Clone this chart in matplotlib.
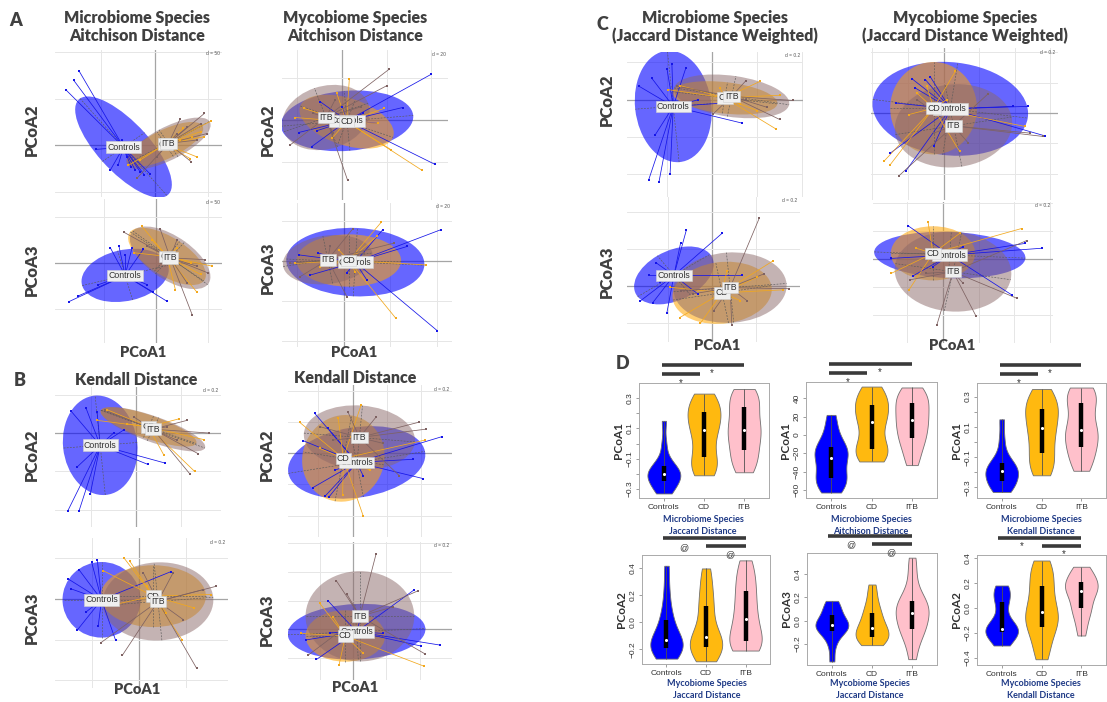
import numpy as np
import matplotlib.pyplot as plt
import matplotlib.transforms as mtransforms
from matplotlib.patches import Ellipse
from matplotlib.collections import LineCollection

plt.rcParams['font.family'] = ['Lato', 'DejaVu Sans']
plt.rcParams['axes.unicode_minus'] = True

W, H = 1107, 702
GROUPS = ["Controls", "CD", "ITB"]

# ---------------- PCoA scores (grid units, 1 unit = d) ----------------
# ellipses: (cx, cy, semi-axis a, semi-axis b, angle in degrees)
A_MICRO_PC2_PTS = {
    "Controls": [(-1.66, 1.19), (-1.51, 1.39), (-1.41, 1.59), (-1.09, -0.09), (-0.83, -0.54), (-0.68, -0.43),
                 (-0.52, -0.25), (-0.44, -0.46), (-0.36, -0.54), (-0.27, -0.57), (-0.19, -0.64), (-0.08, -0.62),
                 (-0.61, 0.11)],
    "CD": [(1.06, 0.52), (0.67, -0.29), (0.7, 0.18), (0.48, 0.11), (0.86, 0.29), (-0.49, -0.43), (-0.27, -0.32),
           (0.54, 0.36), (0.92, 0.18), (0.79, -0.25)],
    "ITB": [(0.93, 0.68), (0.98, 0.25), (0.69, -0.36), (0.48, 0.57), (-0.33, -0.71), (0.61, 0.39), (0.79, 0.11),
            (0.86, 0.46), (0.42, 0.25), (0.04, -0.25)],
}
A_MICRO_PC2_ELL = {"Controls": (-0.58, -0.04, 1.32, 0.50, -52), "CD": (0.20, 0.02, 0.80, 0.30, 30),
                   "ITB": (0.26, 0.04, 0.90, 0.34, 31.5)}

A_MICRO_PC3_PTS = {
    "Controls": [(-1.67, -0.84), (-1.5, -0.72), (-1.1, -0.47), (-0.87, 0.32), (-0.71, 0.37), (-0.59, 0.18),
                 (-0.24, 0.30), (-0.17, -0.47), (-0.06, -0.63), (0.21, -0.83), (-0.46, 0.32)],
    "CD": [(-0.27, 0.79), (1.07, -0.07), (0.78, -0.63), (0.37, -0.58), (0.66, 0.0), (-0.43, 0.22), (-0.08, 0.5),
           (0.85, -0.25), (0.4, 0.32)],
    "ITB": [(-0.61, 0.66), (0.08, 0.73), (0.69, -1.12), (1.0, -0.22), (0.94, 0.07), (0.4, 0.5), (0.59, -0.43),
            (-0.17, 0.36), (0.78, -0.07)],
}
A_MICRO_PC3_ELL = {"Controls": (-0.59, -0.27, 0.85, 0.55, 15), "CD": (0.21, 0.14, 0.88, 0.40, -37),
                   "ITB": (0.27, 0.11, 0.92, 0.45, -39)}

A_MYCO_PC2_PTS = {
    "Controls": [(2.0, 1.1), (2.07, -1.06), (1.36, 0.3), (-0.67, -0.64), (-0.96, -0.3), (-0.48, 0.44), (0.0, 0.32),
                 (0.48, 0.16), (0.81, -0.08), (-0.56, -0.26)],
    "CD": [(1.78, -1.2), (0.17, 0.98), (1.11, -0.72), (0.95, 0.28), (-0.85, 0.28), (-0.22, -0.44), (0.81, -0.08),
           (-1.04, 0.06), (-0.11, 0.64)],
    "ITB": [(1.06, 1.22), (1.0, 0.82), (0.13, -1.44), (-1.15, -0.6), (-0.15, 0.48), (0.44, 0.32), (-0.63, 0.16),
            (-0.19, -0.32)],
}
A_MYCO_PC2_ELL = {"Controls": (0.12, -0.02, 1.48, 0.72, 5), "CD": (0.11, -0.04, 1.10, 0.56, -20),
                  "ITB": (-0.35, 0.06, 1.00, 0.75, 20)}

A_MYCO_PC3_PTS = {
    "Controls": [(2.09, 0.78), (2.0, -1.73), (1.36, 0.36), (0.84, 0.78), (-0.96, 0.15), (-0.71, -0.35),
                 (0.07, -0.29), (0.5, -0.48), (-0.54, 0.19)],
    "CD": [(0.81, 0.97), (1.12, -1.43), (1.77, -0.1), (-1.04, -0.06), (0.71, 0.61), (-0.11, 0.28), (0.25, -0.27),
           (-0.5, -0.14)],
    "ITB": [(0.19, 0.79), (0.07, -0.89), (1.07, 0.44), (-1.14, -0.06), (-0.93, -0.39), (-0.29, 0.36), (0.43, 0.19)],
}
A_MYCO_PC3_ELL = {"Controls": (0.25, -0.03, 1.48, 0.85, -3), "CD": (0.11, 0.01, 1.12, 0.65, 0),
                  "ITB": (-0.34, 0.03, 0.97, 0.60, 10)}

B_MICRO_PC2_PTS = {
    "Controls": [(-1.52, -2.02), (-1.27, -2.02), (-1.45, 0.57), (-1.12, 0.66), (-0.87, 0.55), (-1.32, -0.89),
                 (0.27, -0.82), (0.64, -0.78), (-0.26, 0.09), (-1.02, -1.58), (-0.5, 0.0)],
    "CD": [(1.31, -1.0), (0.62, -0.57), (0.96, 0.37), (1.51, -0.17), (-0.65, 0.61), (-0.87, 0.33), (0.47, 0.16),
           (-0.2, 0.24)],
    "ITB": [(1.63, 0.0), (1.39, -0.54), (1.2, -1.06), (-0.69, 0.59), (1.14, 0.33), (-0.05, 0.42), (0.69, 0.16),
            (0.92, -0.19)],
}
B_MICRO_PC2_ELL = {"Controls": (-0.80, -0.32, 1.30, 0.83, 95), "CD": (0.28, 0.16, 1.15, 0.30, -22),
                   "ITB": (0.38, 0.10, 1.26, 0.33, -23)}

B_MICRO_PC3_PTS = {
    "Controls": [(-1.01, 0.9), (-0.89, 0.97), (-1.28, 0.72), (-1.52, 0.5), (-1.45, 0.25), (-1.32, -0.77),
                 (-0.87, -0.66), (-0.5, -1.02), (0.67, 0.67), (-1.13, -0.32)],
    "CD": [(-0.33, 1.02), (-0.2, 0.93), (0.92, -1.02), (1.17, -0.22), (1.52, 0.11), (-0.77, 0.7), (-0.7, -0.18),
           (0.16, 0.31), (0.58, -0.34)],
    "ITB": [(1.22, -1.7), (-0.36, -1.39), (-0.82, -1.08), (1.63, 0.31), (1.36, 0.23), (0.72, 0.64), (0.09, 0.64),
            (0.94, -0.51)],
}
B_MICRO_PC3_ELL = {"Controls": (-0.80, -0.02, 0.93, 0.83, 90), "CD": (0.30, 0.07, 1.12, 0.76, 0),
                   "ITB": (0.40, -0.06, 1.18, 0.96, 5)}

B_MYCO_PC2_PTS = {
    "Controls": [(2.62, 0.54), (2.06, -0.81), (1.78, -0.19), (-1.11, 1.29), (-1.45, 0.41), (-1.16, -1.1),
                 (-0.81, -1.38), (-0.69, -1.4), (0.31, -0.72), (-0.72, 0.81), (-0.52, -0.54)],
    "CD": [(0.31, -2.01), (0.25, 1.56), (-1.55, 1.0), (2.13, 0.43), (-0.29, -1.34), (0.51, -0.54), (-0.96, 0.16),
           (-0.42, 1.13)],
    "ITB": [(1.93, 1.0), (2.15, 0.78), (0.68, 1.16), (-0.13, 1.32), (1.37, -0.72), (-0.57, 0.43), (0.9, 0.32),
            (-0.96, 0.86)],
}
B_MYCO_PC2_ELL = {"Controls": (0.12, -0.29, 2.03, 1.13, 10), "CD": (-0.27, -0.16, 1.40, 1.20, 80),
                  "ITB": (0.20, 0.51, 1.63, 1.03, -5)}

B_MYCO_PC3_PTS = {
    "Controls": [(2.63, -0.56), (1.82, 1.36), (-1.11, -1.06), (-1.44, -0.38), (-0.76, 0.99), (2.04, -0.59),
                 (-0.71, -0.13), (0.2, 0.31), (0.91, -0.15)],
    "CD": [(2.12, -1.29), (-0.43, -1.26), (-1.57, -0.15), (-1.01, 0.9), (0.3, -0.85), (-0.61, 0.43), (0.61, -0.03)],
    "ITB": [(0.69, 2.64), (1.95, 1.34), (2.17, -0.87), (-0.51, 1.69), (-1.36, -0.91), (1.21, 0.78), (-0.2, 1.24)],
}
B_MYCO_PC3_ELL = {"Controls": (0.10, -0.09, 2.08, 0.97, 3), "CD": (-0.24, -0.24, 1.20, 0.90, 0),
                  "ITB": (0.20, 0.45, 1.64, 1.58, 0)}

C_MICRO_PC2_PTS = {
    "Controls": [(-1.42, -2.16), (-1.19, -2.22), (-0.94, -1.98), (-1.27, -0.94), (-1.63, 0.36), (-1.35, 0.58),
                 (-1.01, 0.83), (-0.59, 0.85), (-0.9, 0.96), (0.67, -0.63), (0.24, -0.09), (-0.31, 0.0)],
    "CD": [(1.06, 0.49), (1.41, -0.78), (1.5, 0.12), (0.61, -0.11), (-0.98, 0.27), (-0.72, 0.38), (0.99, -0.29),
           (0.17, 0.32)],
    "ITB": [(1.79, -0.02), (1.5, -0.53), (0.74, 0.5), (0.02, -0.38), (-0.79, 0.36), (1.21, -0.2), (0.76, -0.02)],
}
C_MICRO_PC2_ELL = {"Controls": (-0.87, -0.18, 1.50, 0.85, 95), "CD": (0.28, 0.05, 1.18, 0.42, -8),
                   "ITB": (0.43, 0.09, 1.30, 0.55, -10)}

C_MICRO_PC3_PTS = {
    "Controls": [(-1.63, -0.42), (-1.34, -0.46), (-1.02, -0.74), (-1.43, 0.28), (-1.26, 0.62), (-0.58, 1.5),
                 (-0.71, 1.15), (0.23, 1.42), (0.68, 0.28), (-0.32, -0.22), (-1.17, 0.1)],
    "CD": [(1.39, 0.68), (1.6, -0.11), (-0.26, -1.01), (-0.73, -0.86), (1.02, 0.23), (0.64, -0.4), (-0.94, -0.04),
           (0.34, 0.41)],
    "ITB": [(1.07, 1.83), (1.75, -0.08), (0.45, -1.07), (-0.43, -0.22), (1.17, 0.32), (0.04, -0.67), (0.79, -0.4),
            (-0.71, -0.13)],
}
C_MICRO_PC3_ELL = {"Controls": (-0.86, 0.28, 1.00, 0.65, 35), "CD": (0.23, -0.19, 1.13, 0.83, 10),
                   "ITB": (0.41, -0.05, 1.28, 0.95, 5)}

C_MYCO_PC2_PTS = {
    "Controls": [(2.85, -0.75), (2.38, 0.22), (1.96, 0.22), (-1.34, 0.33), (-1.5, -1.32), (-1.05, -1.89),
                 (-0.89, 1.13), (-0.51, 1.1), (-0.37, 1.19), (-0.79, 0.82), (-0.28, -1.1)],
    "CD": [(-1.68, -1.59), (-1.5, -1.7), (0.45, -1.26), (0.33, 1.37), (2.29, -0.44), (-0.98, -0.05), (-0.47, 0.88),
           (0.09, 0.44), (-0.75, 0.66)],
    "ITB": [(-1.26, -2.07), (2.8, -0.77), (1.26, 0.64), (0.7, -0.99), (2.43, -0.66), (-0.28, -0.66), (-0.75, 0.44)],
}
C_MYCO_PC2_ELL = {"Controls": (0.19, 0.14, 2.20, 1.53, -8), "CD": (-0.28, 0.16, 1.22, 1.52, 0),
                  "ITB": (0.28, -0.42, 1.66, 1.36, 10)}

C_MYCO_PC3_PTS = {
    "Controls": [(-0.98, 1.18), (2.76, 0.38), (2.29, 0.55), (1.92, -1.27), (-1.45, 0.02), (-0.84, -0.6),
                 (-0.28, -0.27), (0.56, 0.44)],
    "CD": [(2.2, 1.08), (-0.42, 1.32), (-1.45, -0.51), (0.47, 0.91), (-0.95, -1.09), (-0.75, 0.38), (0.09, -0.04)],
    "ITB": [(0.93, -2.04), (-0.17, -2.33), (2.06, -1.39), (2.34, 0.65), (-0.47, -0.51), (-0.93, -0.74),
            (0.56, -0.86)],
}
C_MYCO_PC3_ELL = {"Controls": (0.19, 0.14, 2.12, 0.82, -3), "CD": (-0.28, 0.20, 1.18, 0.96, 0),
                  "ITB": (0.28, -0.45, 1.64, 1.41, -10)}

# ---------------- violin data (panel D) ----------------
D1_VALUES = {  # Microbiome, Jaccard, PCoA1
    "Controls": [-0.33, -0.31, -0.29, -0.26, -0.24, -0.23, -0.21, -0.20, -0.19, -0.18, -0.16, -0.14, -0.10, 0.00, 0.15],
    "CD": [-0.21, -0.18, -0.15, -0.11, -0.07, 0.0, 0.06, 0.09, 0.13, 0.17, 0.20, 0.22, 0.26, 0.30, 0.33],
    "ITB": [-0.19, -0.15, -0.10, -0.06, -0.02, 0.03, 0.07, 0.09, 0.12, 0.17, 0.22, 0.26, 0.30, 0.33, 0.36],
}
D2_VALUES = {  # Microbiome, Aitchison, PCoA1
    "Controls": [-63, -58, -53, -49, -45, -40, -33, -25, -22, -19, -15, -11, -4, 8, 22],
    "CD": [-29, -25, -20, -17, -13, -5, 7, 14, 19, 25, 31, 35, 41, 47, 53],
    "ITB": [-33, -22, -12, -5, -1, 6, 12, 16, 21, 27, 33, 37, 42, 47, 52],
}
D3_VALUES = {  # Microbiome, Kendall, PCoA1
    "Controls": [-0.33, -0.31, -0.29, -0.27, -0.25, -0.23, -0.21, -0.19, -0.18, -0.17, -0.15, -0.13, -0.08, 0.02, 0.15],
    "CD": [-0.22, -0.18, -0.14, -0.09, -0.05, 0.01, 0.06, 0.09, 0.13, 0.18, 0.21, 0.23, 0.27, 0.31, 0.35],
    "ITB": [-0.19, -0.14, -0.09, -0.05, -0.01, 0.03, 0.06, 0.08, 0.12, 0.18, 0.24, 0.28, 0.31, 0.34, 0.36],
}
D4_VALUES = {  # Mycobiome, Jaccard, PCoA2
    "Controls": [-0.27, -0.25, -0.22, -0.20, -0.18, -0.16, -0.15, -0.135, -0.11, -0.07, -0.01, 0.04, 0.12, 0.25, 0.42],
    "CD": [-0.29, -0.26, -0.22, -0.19, -0.17, -0.15, -0.13, -0.11, -0.06, 0.02, 0.09, 0.15, 0.22, 0.31, 0.40],
    "ITB": [-0.21, -0.19, -0.17, -0.15, -0.13, -0.07, -0.02, 0.025, 0.08, 0.14, 0.20, 0.26, 0.32, 0.39, 0.46],
}
D5_VALUES = {  # Mycobiome, Jaccard, PCoA3
    "Controls": [-0.35, -0.22, -0.14, -0.10, -0.08, -0.06, -0.05, -0.035, -0.02, 0.00, 0.03, 0.06, 0.10, 0.14, 0.17],
    "CD": [-0.21, -0.19, -0.16, -0.15, -0.13, -0.10, -0.08, -0.06, -0.03, 0.01, 0.05, 0.09, 0.14, 0.22, 0.31],
    "ITB": [-0.33, -0.20, -0.11, -0.08, -0.06, 0.00, 0.04, 0.07, 0.10, 0.13, 0.16, 0.18, 0.26, 0.40, 0.54],
}
D6_VALUES = {  # Mycobiome, Kendall, PCoA2
    "Controls": [-0.30, -0.27, -0.23, -0.20, -0.18, -0.175, -0.17, -0.165, -0.13, -0.08, 0.02, 0.07, 0.11, 0.15, 0.18],
    "CD": [-0.41, -0.33, -0.24, -0.17, -0.13, -0.09, -0.06, -0.035, 0.02, 0.09, 0.15, 0.21, 0.27, 0.33, 0.38],
    "ITB": [-0.22, -0.13, -0.06, -0.01, 0.01, 0.07, 0.11, 0.14, 0.16, 0.18, 0.20, 0.22, 0.26, 0.30, 0.33],
}

# ---------------- styling ----------------
FILL = {"Controls": "#0000FF", "CD": "#FFA500", "ITB": "#8B6868"}
FILL_ALPHA = {"Controls": 0.6, "CD": 0.55, "ITB": 0.5}
LINE = {"Controls": "#1515E8", "CD": "#F2A81D", "ITB": "#7E6262"}
VIOLIN = {"Controls": "#0000FF", "CD": "#FFB90F", "ITB": "#FFC0CB"}
TXT = '#404040'
NAVY = '#1F3A86'

fig = plt.figure(figsize=(W / 100, H / 100), dpi=100)


def px_rect(x0, y0, x1, y1):
    return [x0 / W, 1 - y1 / H, (x1 - x0) / W, (y1 - y0) / H]


def ftext(x, y, s, **kw):
    fig.text(x / W, 1 - y / H, s, ha='center', va='center', **kw)


def pcoa_panel(rect, pts, ell, xlim, ylim, dlab):
    ax = fig.add_axes(px_rect(*rect))
    ax.set_xlim(*xlim)
    ax.set_ylim(*ylim)
    ax.axis('off')
    for gx in range(int(np.ceil(xlim[0])), int(np.floor(xlim[1])) + 1):
        ax.axvline(gx, color='#A5A5A5' if gx == 0 else '#E6E6E6', lw=0.9 if gx == 0 else 0.7, zorder=0)
    for gy in range(int(np.ceil(ylim[0])), int(np.floor(ylim[1])) + 1):
        ax.axhline(gy, color='#A5A5A5' if gy == 0 else '#E6E6E6', lw=0.9 if gy == 0 else 0.7, zorder=0)

    for g in GROUPS:
        cx, cy, a, b, ang = ell[g]
        ax.add_patch(Ellipse((cx, cy), 2 * a, 2 * b, angle=ang, fc=FILL[g], ec='none',
                             alpha=FILL_ALPHA[g], zorder=1))
    for g in GROUPS:
        cx, cy, a, b, ang = ell[g]
        t = np.deg2rad(ang)
        c, s = np.cos(t), np.sin(t)
        ax.plot([cx - a * c, cx + a * c], [cy - a * s, cy + a * s], ls=(0, (3, 2)), color='#5A5A5A', lw=0.45, zorder=2)
        ax.plot([cx + b * s, cx - b * s], [cy - b * c, cy + b * c], ls=(0, (3, 2)), color='#5A5A5A', lw=0.45, zorder=2)
        segs = [[(cx, cy), p] for p in pts[g]]
        ax.add_collection(LineCollection(segs, colors=LINE[g], linewidths=0.55, zorder=3))
        xs, ys = zip(*pts[g])
        ax.scatter(xs, ys, s=3, marker='s', color=LINE[g], lw=0, zorder=4)
    for g in GROUPS:
        cx, cy = ell[g][:2]
        ax.text(cx, cy, g, ha='center', va='center', fontsize=6.3, color='#333333', family='Liberation Sans',
                zorder=6, bbox=dict(boxstyle='square,pad=0.15', fc='#EFEFEF', ec='#D0D0D0', lw=0.4))
    ax.text(0.985, 0.99, dlab, transform=ax.transAxes, ha='right', va='top', fontsize=3.5, color='#555555',
            family='Liberation Sans')
    return ax


def violin_panel(rect, values, ylim, yticks, minor, ylabel):
    ax = fig.add_axes(px_rect(*rect))
    data = [values[g] for g in GROUPS]
    parts = ax.violinplot(data, positions=[1, 2, 3], widths=0.82, showextrema=False, bw_method=0.45)
    for body, g in zip(parts['bodies'], GROUPS):
        body.set_facecolor(VIOLIN[g])
        body.set_edgecolor('#707070')
        body.set_linewidth(0.6)
        body.set_alpha(1)
    for i, g in enumerate(GROUPS):
        v = np.asarray(values[g], dtype=float)
        q1, med, q3 = np.percentile(v, [25, 50, 75])
        ax.vlines(i + 1, v.min(), v.max(), color='#505050', lw=0.6, zorder=3)
        ax.vlines(i + 1, q1, q3, color='black', lw=3.2, zorder=4)
        ax.scatter([i + 1], [med], s=5, color='white', lw=0, zorder=5)
    ax.set_xlim(0.38, 3.62)
    ax.set_ylim(*ylim)
    ax.set_xticks([1, 2, 3])
    ax.set_xticklabels(GROUPS, fontsize=6, color='#333333', family='Liberation Sans')
    is_int = all(float(t).is_integer() for t in yticks)
    ax.set_yticks(yticks)
    ax.set_yticklabels([(f'{t:.0f}' if is_int else f'{t:.1f}').replace('-', '\u2212') for t in yticks],
                       rotation=90, va='center', fontsize=6, color='#333333', family='Liberation Sans')
    ax.set_yticks(minor, minor=True)
    ax.tick_params(length=2.5, width=0.5, color='#777777', pad=1.5, which='both')
    for sp in ax.spines.values():
        sp.set_color('#AAAAAA')
        sp.set_linewidth(0.7)
    ax.set_ylabel(ylabel, fontsize=8.5, fontweight='bold', color='#333333', labelpad=1.5)
    return ax


def sig_marks(ax, bars, marks):
    tr = mtransforms.blended_transform_factory(ax.transData, ax.transAxes)
    for x0, x1, yy in bars:
        ax.plot([x0, x1], [yy, yy], transform=tr, clip_on=False, color='#3A3A3A', lw=2.6,
                solid_capstyle='butt')
    for x, yy, s in marks:
        ax.text(x, yy, s, transform=tr, ha='center', va='center', fontsize=6.5 if s == '@' else 7,
                color='#333333', family='Liberation Sans')


# ---------------- panels A, B, C ----------------
pcoa_panel((55, 50, 222, 197), A_MICRO_PC2_PTS, A_MICRO_PC2_ELL, (-1.86, 1.26), (-1.11, 2.04), 'd = 50')
pcoa_panel((55, 199, 222, 343), A_MICRO_PC3_PTS, A_MICRO_PC3_ELL, (-1.93, 1.26), (-1.73, 1.38), 'd = 50')
pcoa_panel((282, 50, 448, 200), A_MYCO_PC2_PTS, A_MYCO_PC2_ELL, (-1.33, 2.37), (-1.92, 1.68), 'd = 20')
pcoa_panel((282, 203, 452, 347), A_MYCO_PC3_PTS, A_MYCO_PC3_ELL, (-1.32, 2.32), (-2.14, 1.44), 'd = 20')
pcoa_panel((55, 387, 221, 527), B_MICRO_PC2_PTS, B_MICRO_PC2_ELL, (-1.81, 1.90), (-2.45, 1.20), 'd = 0.2')
pcoa_panel((55, 538, 228, 688), B_MICRO_PC3_PTS, B_MICRO_PC3_ELL, (-1.79, 1.89), (-2.19, 1.50), 'd = 0.2')
pcoa_panel((288, 385, 452, 537), B_MYCO_PC2_PTS, B_MYCO_PC2_ELL, (-1.89, 2.91), (-2.69, 2.20), 'd = 0.2')
pcoa_panel((288, 542, 452, 680), B_MYCO_PC3_PTS, B_MYCO_PC3_ELL, (-1.97, 2.98), (-1.78, 3.05), 'd = 0.2')
pcoa_panel((627, 52, 803, 197), C_MICRO_PC2_PTS, C_MICRO_PC2_ELL, (-1.90, 2.02), (-2.61, 1.28), 'd = 0.2')
pcoa_panel((627, 197, 800, 342), C_MICRO_PC3_PTS, C_MICRO_PC3_ELL, (-1.92, 1.99), (-1.52, 2.40), 'd = 0.2')
pcoa_panel((871, 48, 1058, 200), C_MYCO_PC2_PTS, C_MYCO_PC2_ELL, (-2.04, 3.22), (-2.86, 2.14), 'd = 0.2')
pcoa_panel((873, 202, 1053, 343), C_MYCO_PC3_PTS, C_MYCO_PC3_ELL, (-1.96, 3.08), (-2.98, 2.02), 'd = 0.2')

bold = dict(fontweight='heavy', color=TXT)
ftext(137, 27, 'Microbiome Species\nAitchison Distance', fontsize=11.5, linespacing=1.1, **bold)
ftext(355, 27, 'Mycobiome Species\nAitchison Distance', fontsize=11.5, linespacing=1.1, **bold)
ftext(136, 380, 'Kendall Distance', fontsize=11.5, **bold)
ftext(355, 378, 'Kendall Distance', fontsize=11.5, **bold)
ftext(715, 27, 'Microbiome Species\n(Jaccard Distance Weighted)', fontsize=11.5, linespacing=1.1, **bold)
ftext(965, 27, 'Mycobiome Species\n(Jaccard Distance Weighted)', fontsize=11.5, linespacing=1.1, **bold)

for x, y, s in [(16, 20, 'A'), (20, 380, 'B'), (602, 25, 'C'), (623, 363, 'D')]:
    ftext(x, y, s, fontsize=13, **bold)

for x, y, s in [(32, 130, 'PCoA2'), (32, 270, 'PCoA3'), (268, 130, 'PCoA2'), (268, 268, 'PCoA3'),
                (32, 455, 'PCoA2'), (32, 618, 'PCoA3'), (267, 455, 'PCoA2'), (267, 620, 'PCoA3'),
                (607, 100, 'PCoA2'), (607, 272, 'PCoA3')]:
    ftext(x, y, s, fontsize=12, rotation=90, **bold)
for x, y in [(143, 353), (354, 353), (137, 690), (355, 688), (717, 345), (952, 345)]:
    ftext(x, y, 'PCoA1', fontsize=10.5, **bold)

# ---------------- panel D ----------------
ax1 = violin_panel((639, 383, 769, 498), D1_VALUES, (-0.36, 0.40), [-0.3, -0.1, 0.1, 0.3],
                   [-0.2, 0.0, 0.2], 'PCoA1')
ax2 = violin_panel((806, 382, 937, 498), D2_VALUES, (-69, 58), [-60, -40, -20, 0, 20, 40], [], 'PCoA1')
ax3 = violin_panel((977, 383, 1106, 498), D3_VALUES, (-0.37, 0.39), [-0.3, -0.1, 0.1, 0.3],
                   [-0.2, 0.0, 0.2], 'PCoA1')
ax4 = violin_panel((642, 555, 770, 664), D4_VALUES, (-0.31, 0.50), [-0.2, 0.0, 0.2, 0.4], [], 'PCoA2')
ax5 = violin_panel((807, 553, 937, 665), D5_VALUES, (-0.38, 0.58), [-0.2, 0.0, 0.2, 0.4], [], 'PCoA3')
ax6 = violin_panel((977, 555, 1106, 665), D6_VALUES, (-0.456, 0.424), [-0.4, -0.2, 0.0, 0.2, 0.4], [], 'PCoA2')

top_bars = [(0.95, 3.0, 1.157), (0.95, 1.9, 1.078)]
for ax in (ax1, ax2, ax3):
    sig_marks(ax, top_bars, [(2.2, 1.085, '*'), (1.42, 1.0, '*')])
bot_bars = [(0.9, 3.0, 1.156), (2.0, 3.0, 1.083)]
sig_marks(ax4, bot_bars, [(1.43, 1.07, '@'), (2.6, 1.0, '@')])
sig_marks(ax5, bot_bars, [(1.47, 1.07, '@'), (2.47, 1.0, '@')])
sig_marks(ax6, bot_bars, [(1.5, 1.08, '*'), (2.55, 1.01, '*')])

for x, y, s1, s2 in [(703, 519, 'Microbiome Species', 'Jaccard Distance'),
                     (871, 519, 'Microbiome Species', 'Aitchison Distance'),
                     (1041, 519, 'Microbiome Species', 'Kendall Distance'),
                     (707, 684, 'Mycobiome Species', 'Jaccard Distance'),
                     (870, 684, 'Mycobiome Species', 'Jaccard Distance'),
                     (1041, 684, 'Mycobiome Species', 'Kendall Distance')]:
    ftext(x, y, s1, fontsize=6.5, fontweight='bold', color=NAVY)
    ftext(x, y + 12, s2, fontsize=6.5, fontweight='bold', color=NAVY)

fig.savefig('out.png', dpi=100)
